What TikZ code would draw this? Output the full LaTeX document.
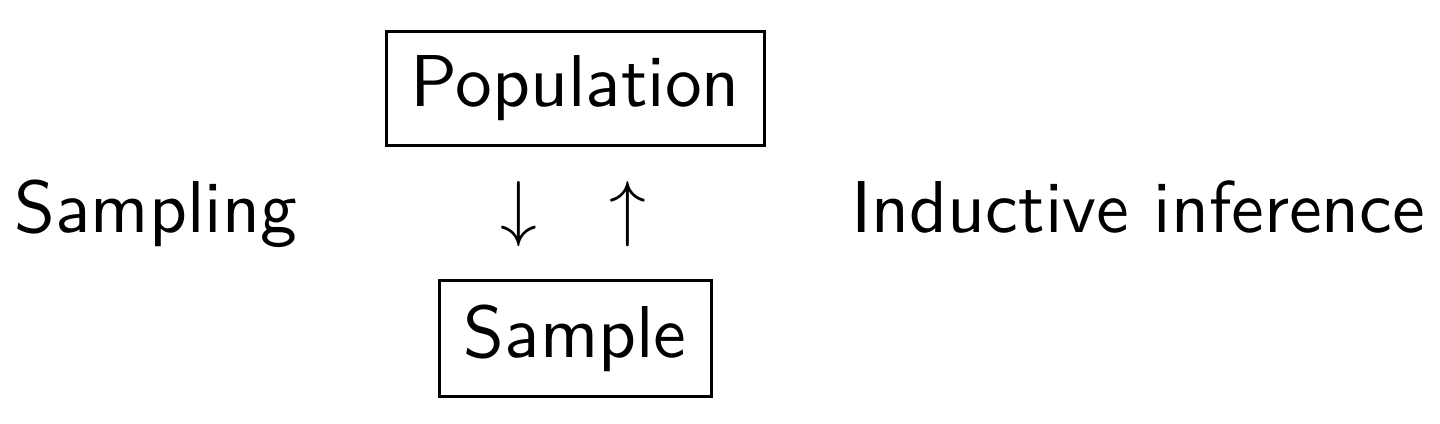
\documentclass[tikz,border=0pt]{standalone}
\renewcommand{\familydefault}{\sfdefault}
\usetikzlibrary{positioning}

\begin{document}
\begin{tikzpicture}[x=1pt,y=1pt]
	\tikzset{box/.style={draw,inner sep=3.33pt},
		word/.style={anchor=base west,inner sep=0pt},
		glyph/.style={anchor=base,inner sep=0pt}}
	\useasboundingbox (0,0) rectangle (196,-57.7);
	\node[box] (pop) at (78.3,-12.0) {Population};
	\node[box] (smp) at (78.3,-46.1) {Sample};
	\node[word] (sampling) at (1.8,-31.6) {Sampling};
	\node[word] (induct) at (115.7,-31.6) {Inductive inference};
	%% arrows between the two boxes
	\node[glyph] (down) at (70.6,-31.6) {$\downarrow$};
	\node[glyph] (up) at (85.5,-31.6) {$\uparrow$};
\end{tikzpicture}
\end{document}
